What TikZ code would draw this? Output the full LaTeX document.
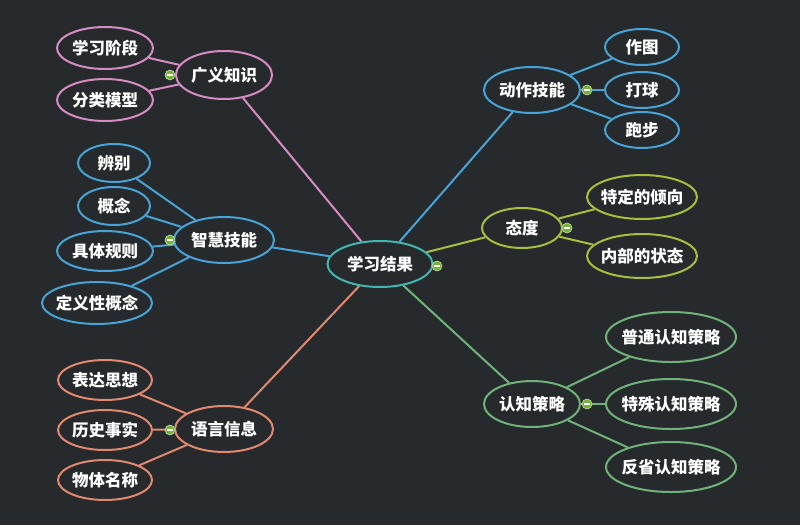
\documentclass[tikz,border=0pt]{standalone}
\usepackage{fontspec}
\setmainfont{Noto Sans CJK SC}
\usetikzlibrary{shapes.geometric, positioning}
\definecolor{bgdark}{RGB}{38,42,45}
\definecolor{rootcol}{RGB}{64,184,176}
\definecolor{pinkcol}{RGB}{214,140,194}
\definecolor{bluecol}{RGB}{72,164,214}
\definecolor{salmoncol}{RGB}{226,136,112}
\definecolor{olivecol}{RGB}{168,190,60}
\definecolor{greencol}{RGB}{112,178,122}
\definecolor{foldcol}{RGB}{118,178,58}
\tikzset{topic/.style={ellipse, draw, line width=2pt, fill=bgdark, text=white,
    inner xsep=-5pt, inner ysep=0pt, font=\fontsize{16.5}{16.5}\selectfont\bfseries},
    link/.style={draw, line width=2pt},
    fold/.style={circle, fill=foldcol, draw=white!60!foldcol, line width=0.6pt,
    minimum size=10pt, inner sep=0pt,
    path picture={\draw[white, line width=1.4pt]
        ([xshift=-2.6pt]path picture bounding box.center) --
        ([xshift=2.6pt]path picture bounding box.center);}}}

\begin{document}
\begin{tikzpicture}[x=1pt, y=-1pt]
    % Background
    \fill[bgdark] (0,0) rectangle (800,525);
    \useasboundingbox (0,0) rectangle (800,525);

    % Central topic
    \node[topic, draw=rootcol, minimum width=105pt, minimum height=46pt] (root) at (380,264) {学习结果};

    % Main branches
    \node[topic, draw=pinkcol,   minimum width=96pt,  minimum height=48pt] (broad)  at (224,75)  {广义知识};
    \node[topic, draw=bluecol,   minimum width=100pt, minimum height=46pt] (intel)  at (224,240) {智慧技能};
    \node[topic, draw=salmoncol, minimum width=98pt,  minimum height=46pt] (verbal) at (224,429) {语言信息};
    \node[topic, draw=bluecol,   minimum width=96pt,  minimum height=46pt] (motor)  at (532,90)  {动作技能};
    \node[topic, draw=olivecol,  minimum width=80pt,  minimum height=40pt] (attit)  at (522,228) {态度};
    \node[topic, draw=greencol,  minimum width=96pt,  minimum height=46pt] (cogn)   at (532,404) {认知策略};

    \draw[link, pinkcol]   (root) -- (broad);
    \draw[link, bluecol]   (root) -- (intel);
    \draw[link, salmoncol] (root) -- (verbal);
    \draw[link, bluecol]   (root) -- (motor);
    \draw[link, olivecol]  (root) -- (attit);
    \draw[link, greencol]  (root) -- (cogn);

    % Sub topics, left side
    \node[topic, draw=pinkcol, minimum width=96pt, minimum height=42pt] (stage) at (105,48)  {学习阶段};
    \node[topic, draw=pinkcol, minimum width=96pt, minimum height=42pt] (model) at (105,100) {分类模型};
    \draw[link, pinkcol] (stage) -- (broad);
    \draw[link, pinkcol] (model) -- (broad);

    \node[topic, draw=bluecol, minimum width=72pt,  minimum height=38pt] (discr) at (114,163) {辨别};
    \node[topic, draw=bluecol, minimum width=72pt,  minimum height=38pt] (conc)  at (114,206) {概念};
    \node[topic, draw=bluecol, minimum width=96pt,  minimum height=40pt] (rule)  at (105,251) {具体规则};
    \node[topic, draw=bluecol, minimum width=110pt, minimum height=42pt] (defc)  at (97,303)  {定义性概念};
    \draw[link, bluecol] (discr) -- (intel);
    \draw[link, bluecol] (conc)  -- (intel);
    \draw[link, bluecol] (rule)  -- (intel);
    \draw[link, bluecol] (defc)  -- (intel);

    \node[topic, draw=salmoncol, minimum width=94pt, minimum height=40pt] (idea)  at (105,380) {表达思想};
    \node[topic, draw=salmoncol, minimum width=94pt, minimum height=40pt] (fact)  at (105,430) {历史事实};
    \node[topic, draw=salmoncol, minimum width=94pt, minimum height=40pt] (name)  at (105,480) {物体名称};
    \draw[link, salmoncol] (idea) -- (verbal);
    \draw[link, salmoncol] (fact) -- (verbal);
    \draw[link, salmoncol] (name) -- (verbal);

    % Sub topics, right side
    \node[topic, draw=bluecol, minimum width=74pt, minimum height=36pt] (draw) at (642,47)  {作图};
    \node[topic, draw=bluecol, minimum width=74pt, minimum height=36pt] (ball) at (642,90)  {打球};
    \node[topic, draw=bluecol, minimum width=74pt, minimum height=36pt] (run)  at (642,130) {跑步};
    \draw[link, bluecol] (motor) -- (draw);
    \draw[link, bluecol] (motor) -- (ball);
    \draw[link, bluecol] (motor) -- (run);

    \node[topic, draw=olivecol, minimum width=110pt, minimum height=44pt] (tend)  at (642,197) {特定的倾向};
    \node[topic, draw=olivecol, minimum width=110pt, minimum height=44pt] (state) at (642,256) {内部的状态};
    \draw[link, olivecol] (attit) -- (tend);
    \draw[link, olivecol] (attit) -- (state);

    \node[topic, draw=greencol, minimum width=130pt, minimum height=50pt] (gen)  at (671,337) {普通认知策略};
    \node[topic, draw=greencol, minimum width=130pt, minimum height=50pt] (spec) at (671,404) {特殊认知策略};
    \node[topic, draw=greencol, minimum width=130pt, minimum height=50pt] (refl) at (671,467) {反省认知策略};
    \draw[link, greencol] (cogn) -- (gen);
    \draw[link, greencol] (cogn) -- (spec);
    \draw[link, greencol] (cogn) -- (refl);

    % Collapse markers
    \node[fold] (f0) at (437,266) {};
    \node[fold] (f1) at (170,75)  {};
    \node[fold] (f2) at (170,240) {};
    \node[fold] (f3) at (170,430) {};
    \node[fold] (f4) at (587,90)  {};
    \node[fold] (f5) at (567,228) {};
    \node[fold] (f6) at (587,404) {};
\end{tikzpicture}
\end{document}
